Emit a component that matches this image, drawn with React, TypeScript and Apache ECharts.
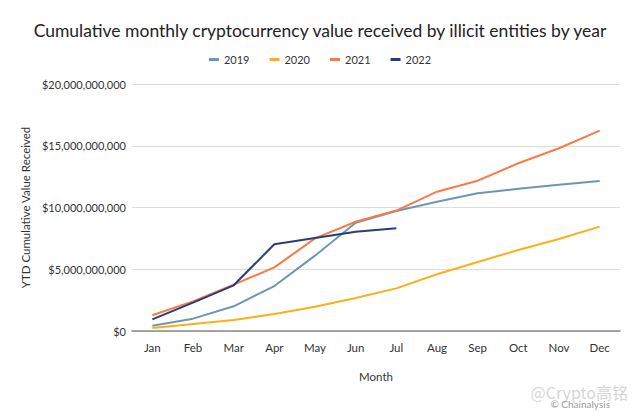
import React, { useEffect, useRef } from "react";
import * as echarts from "echarts";

const months = ["Jan", "Feb", "Mar", "Apr", "May", "Jun", "Jul", "Aug", "Sep", "Oct", "Nov", "Dec"];
const yearNames = ["2019", "2020", "2021", "2022"];
const values2019 = [0.43e9, 1.0e9, 2.0e9, 3.64e9, 6.1e9, 8.77e9, 9.72e9, 10.47e9, 11.15e9, 11.52e9, 11.85e9, 12.15e9];
const values2020 = [0.24e9, 0.57e9, 0.89e9, 1.38e9, 1.97e9, 2.67e9, 3.45e9, 4.6e9, 5.59e9, 6.56e9, 7.45e9, 8.45e9];
const values2021 = [1.27e9, 2.4e9, 3.75e9, 5.15e9, 7.5e9, 8.85e9, 9.75e9, 11.28e9, 12.17e9, 13.58e9, 14.8e9, 16.22e9];
const values2022 = [0.94e9, 2.3e9, 3.7e9, 7.02e9, 7.53e9, 8.04e9, 8.31e9];
const colors = ["#6b97b5", "#fbb018", "#fb7a43", "#2c3b7a"];

const FONT = "Lato, 'Noto Sans', sans-serif";

function fmt(v: number): string {
  return "$" + Math.round(v).toLocaleString("en-US");
}

export default function App() {
  const ref = useRef<HTMLDivElement>(null);
  useEffect(() => {
    if (!ref.current) return;
    const chart = echarts.init(ref.current, null, { renderer: "svg" });
    const seriesData = [values2019, values2020, values2021, values2022];
    chart.setOption({
      animation: false,
      backgroundColor: "#ffffff",
      title: {
        text: "Cumulative monthly cryptocurrency value received by illicit entities by year",
        left: "center",
        top: 16,
        textStyle: { fontFamily: FONT, fontSize: 17.5, fontWeight: "normal", color: "#222" },
      },
      legend: {
        top: 49,
        left: "center",
        itemWidth: 10,
        itemHeight: 3,
        itemGap: 20,
        icon: "rect",
        textStyle: { fontFamily: FONT, fontSize: 11, color: "#333" },
        data: yearNames,
      },
      grid: { left: 132, right: 20, top: 84, bottom: 87, containLabel: false },
      xAxis: {
        type: "category",
        data: months,
        boundaryGap: true,
        name: "Month",
        nameLocation: "middle",
        nameGap: 39,
        nameTextStyle: { fontFamily: FONT, fontSize: 11.5, color: "#333" },
        axisLine: { lineStyle: { color: "#8a8a8a", width: 1.5 } },
        axisTick: { show: false },
        axisLabel: { fontFamily: FONT, fontSize: 11.5, color: "#333", margin: 10 },
      },
      yAxis: {
        type: "value",
        min: 0,
        max: 20e9,
        interval: 5e9,
        name: "YTD Cumulative Value Received",
        nameLocation: "middle",
        nameGap: 98,
        nameRotate: 90,
        nameTextStyle: { fontFamily: FONT, fontSize: 11.5, color: "#333" },
        axisLine: { show: false },
        axisTick: { show: false },
        axisLabel: { fontFamily: FONT, fontSize: 11, color: "#333", margin: 6, formatter: (v: number) => fmt(v) },
        splitLine: { lineStyle: { color: "#dcdcdc", width: 1 } },
      },
      series: yearNames.map((name, i) => ({
        name,
        type: "line",
        data: seriesData[i],
        showSymbol: false,
        symbol: "none",
        lineStyle: { color: colors[i], width: 2 },
        itemStyle: { color: colors[i] },
        z: i === 3 ? 5 : 3 + i * 0.1,
      })),
      graphic: [
        {
          type: "text",
          right: 12,
          top: 384,
          style: { text: "@Crypto高铭", fontFamily: "'Noto Sans CJK SC', sans-serif", fontSize: 16, fill: "rgba(170,170,170,0.5)" },
        },
        {
          type: "text",
          right: 30,
          top: 399,
          style: { text: "© Chainalysis", fontFamily: FONT, fontSize: 10, fill: "#9a9a9a" },
        },
      ],
    });
    return () => chart.dispose();
  }, []);
  return <div ref={ref} style={{ position: "fixed", left: 0, top: 0, width: 640, height: 418 }} />;
}
